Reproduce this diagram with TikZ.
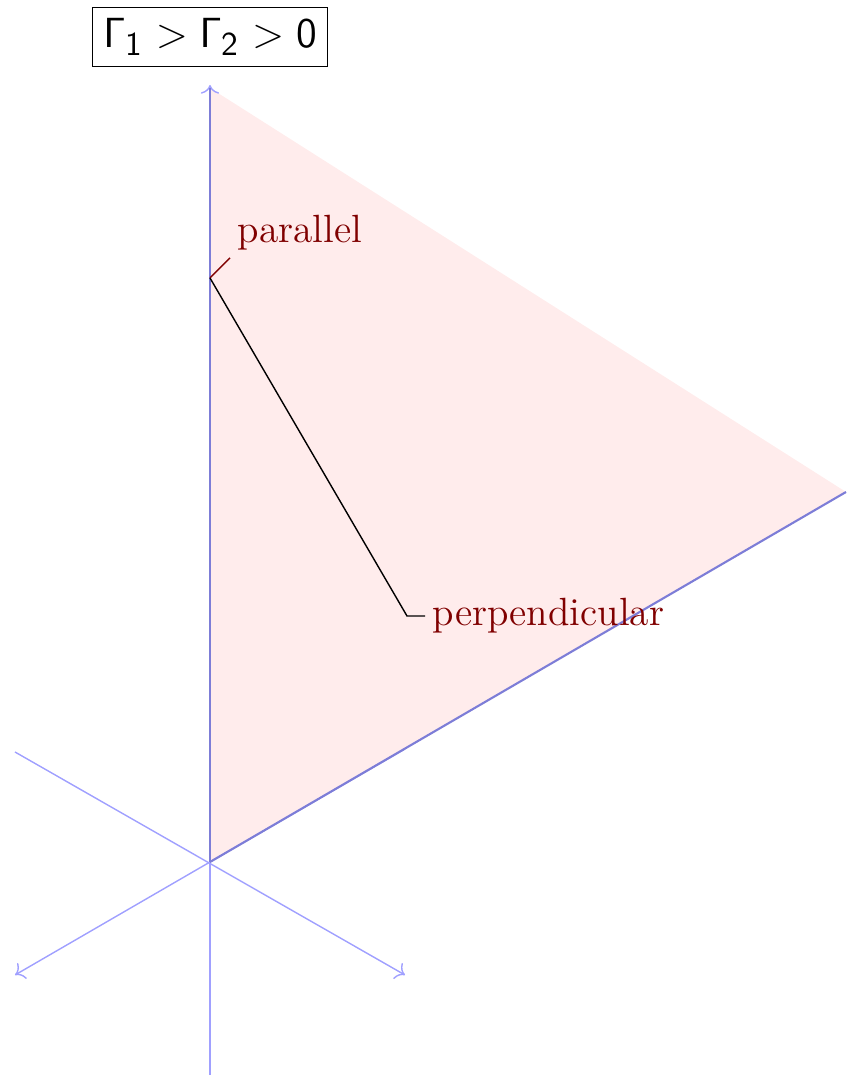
\documentclass[tikz,border=0pt]{standalone}
\usetikzlibrary{arrows.meta,positioning}
\definecolor{axisblue}{RGB}{160,160,255}
\definecolor{edgeblue}{RGB}{125,125,215}
\definecolor{regionpink}{RGB}{255,236,236}
\definecolor{labelred}{RGB}{128,0,0}
\newcommand{\sfsub}[1]{\mbox{\fontsize{9.5}{11}\selectfont\sffamily #1}}

\begin{document}
\begin{tikzpicture}[x=0.01cm,y=0.01cm,
  axis/.style={draw=axisblue,thin},
  edge/.style={draw=edgeblue,semithick},
  lbl/.style={text=labelred,font=\fontsize{11.2}{13}\selectfont,inner sep=2pt},
  title/.style={draw,thin,inner sep=3pt,font=\fontsize{11.8}{14}\selectfont}]
\useasboundingbox (-210,-215) rectangle (636,862);
% region and its corners
\coordinate (O) at (0,0);
\coordinate (Top) at (0,774);
\coordinate (Right) at (636,370);
\fill[regionpink] (O) -- (Top) -- (Right) -- cycle;
% three axes
\coordinate (UpTip) at (0,777);
\coordinate (DownEnd) at (0,-213);
\coordinate (ULEnd) at (-195,110);
\coordinate (LRTip) at (195,-113);
\coordinate (URStart) at (195,113);
\coordinate (LLTip) at (-195,-113);
\draw[axis,->] (DownEnd) -- (UpTip);
\draw[axis,->] (ULEnd) -- (LRTip);
\draw[axis,->] (URStart) -- (LLTip);
\draw[edge] (O) -- (Top);
\draw[edge] (O) -- (Right);
% labels
\coordinate (Par) at (0,584);
\coordinate (ParStub) at (20,604);
\coordinate (PerpBend) at (197,246);
\coordinate (PerpStub) at (215,246);
\draw[labelred] (Par) -- (ParStub);
\draw (Par) -- (PerpBend) -- (PerpStub);
\node[lbl,anchor=south west] (parallel) at (ParStub) {parallel};
\node[lbl,anchor=west] (perpendicular) at (PerpStub) {perpendicular};
\node[title] (cond) at (0,825) {$\mathsf{\Gamma}_{\sfsub{1}} > \mathsf{\Gamma}_{\sfsub{2}} > \mathsf{0}$};
\end{tikzpicture}
\end{document}
